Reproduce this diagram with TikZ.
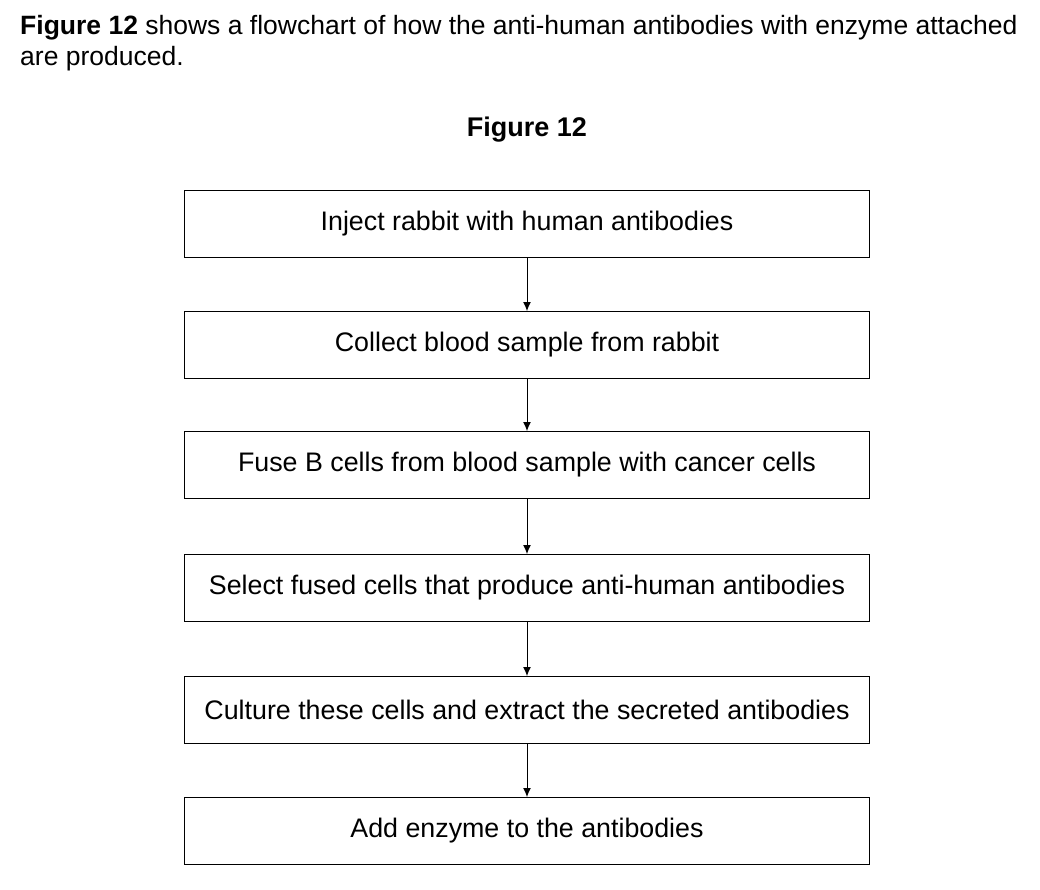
\documentclass[tikz,border=0pt]{standalone}
\usepackage{fontspec}
\setmainfont{Liberation Sans}
\usetikzlibrary{positioning,arrows.meta}
\tikzset{
  stepbox/.style={draw, line width=1pt, minimum width=685pt, minimum height=67pt,
    inner sep=0pt, font=\fontsize{26.8}{30}\selectfont},
  flow/.style={-{Latex[length=9pt,width=8pt]}, line width=1pt}
}
\begin{document}
\begin{tikzpicture}[x=1pt,y=-1pt]
  \useasboundingbox (0,0) rectangle (1040,890);
  \node[anchor=west, inner sep=0pt, font=\fontsize{26.5}{30}\selectfont] (intro1) at (20,28)
    {\textbf{Figure 12} shows a flowchart of how the anti-human antibodies with enzyme attached};
  \node[anchor=west, inner sep=0pt, font=\fontsize{26.5}{30}\selectfont] (intro2) at (20,59)
    {are produced.};
  \node[font=\fontsize{27}{30}\bfseries] (title) at (527,130) {Figure 12};
  % flow of steps
  \node[stepbox] (inject) at (527,224) {Inject rabbit with human antibodies};
  \node[stepbox] (collect) at (527,345) {Collect blood sample from rabbit};
  \node[stepbox] (fuse) at (527,465) {Fuse B cells from blood sample with cancer cells};
  \node[stepbox] (select) at (527,588) {Select fused cells that produce anti-human antibodies};
  \node[stepbox] (culture) at (527,710) {Culture these cells and extract the secreted antibodies};
  \node[stepbox] (enzyme) at (527,831) {Add enzyme to the antibodies};
  \draw[flow] (inject) -- (collect);
  \draw[flow] (collect) -- (fuse);
  \draw[flow] (fuse) -- (select);
  \draw[flow] (select) -- (culture);
  \draw[flow] (culture) -- (enzyme);
\end{tikzpicture}
\end{document}
